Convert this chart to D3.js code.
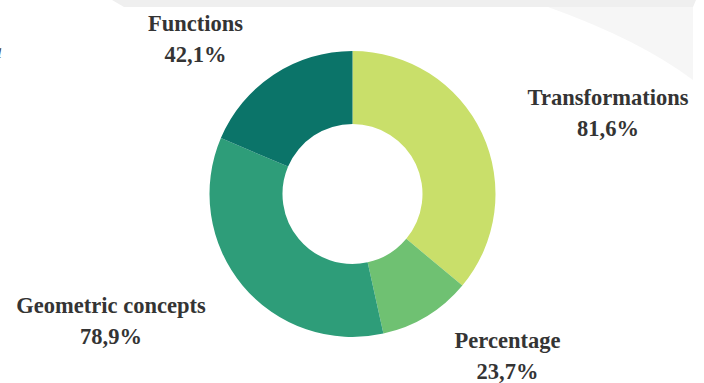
<!DOCTYPE html>
<html>
<head>
<meta charset="utf-8">
<script src="https://cdn.jsdelivr.net/npm/d3@7"></script>
<style>
  html, body { margin: 0; padding: 0; background: #ffffff; }
  svg { display: block; }
  .lbl { font-family: "Liberation Serif", "Times New Roman", serif; font-weight: bold; font-size: 22.5px; fill: #343434; }
</style>
</head>
<body>
<svg id="chart" width="704" height="383"></svg>
<script>
// Topic shares (percent of respondents), clockwise from 12 o'clock
const categories = ["Transformations", "Percentage", "Geometric concepts", "Functions"];
const shares = [81.6, 23.7, 78.9, 42.1];
const colors = ["#c9df6a", "#6fc172", "#2e9d79", "#0b7469"];

// Label anchor points (x centre, first-line baseline)
const labelAnchors = [[608, 105], [507.5, 348], [111, 312.5], [195.5, 31]];

const W = 704, H = 383;
const cx = 352.5, cy = 194;
const outerR = 143, innerR = 70;
const lineGap = 31;

const svg = d3.select("#chart");

// faint backdrop shapes along the top edge
const bg = svg.append("g");
bg.append("path")
  .attr("d", "M112,0 L696,0 L693,7 L124,7 Z")
  .attr("fill", "#efefef");
bg.append("path")
  .attr("d", "M548,7 L693,7 L693,80 Q640,40 548,7 Z")
  .attr("fill", "#f6f6f6");

// partial italic glyph at the left edge
svg.append("text")
  .attr("x", -9).attr("y", 58)
  .attr("font-family", "Liberation Serif, serif")
  .attr("font-style", "italic")
  .attr("font-size", 22)
  .attr("fill", "#444")
  .text("a");

const data = categories.map((c, i) => ({ name: c, value: shares[i], color: colors[i], anchor: labelAnchors[i] }));

const pie = d3.pie().sort(null).value(d => d.value).startAngle(0).endAngle(2 * Math.PI);
const arc = d3.arc().innerRadius(innerR).outerRadius(outerR);

const g = svg.append("g").attr("transform", `translate(${cx},${cy})`);
g.selectAll("path.slice")
  .data(pie(data))
  .join("path")
  .attr("class", "slice")
  .attr("d", arc)
  .attr("fill", d => d.data.color);

const fmt = v => v.toFixed(1).replace(".", ",") + "%";

const labels = svg.selectAll("g.label")
  .data(data)
  .join("g")
  .attr("class", "label")
  .attr("transform", d => `translate(${d.anchor[0]},${d.anchor[1]})`);

labels.append("text")
  .attr("class", "lbl")
  .attr("text-anchor", "middle")
  .text(d => d.name);

labels.append("text")
  .attr("class", "lbl")
  .attr("text-anchor", "middle")
  .attr("y", lineGap)
  .text(d => fmt(d.value));
</script>
</body>
</html>
